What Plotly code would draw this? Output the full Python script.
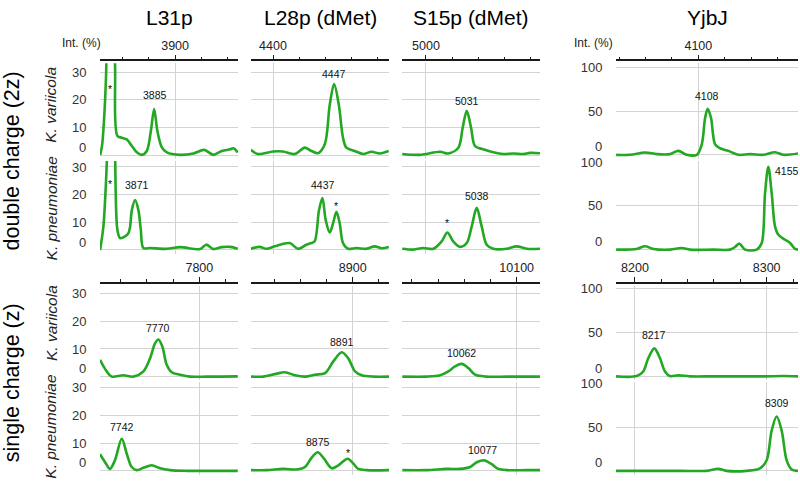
import plotly.graph_objects as go

W, H = 800, 482
FONT = "Liberation Sans, Arial, sans-serif"
GREEN = "#22a822"
GRID = "#d3d3d3"
AXIS = "#1a1a1a"

# ---------------- text ----------------
proteins = ["L31p", "L28p (dMet)", "S15p (dMet)", "YjbJ"]
species = ["K. variicola", "K. pneumoniae", "K. variicola", "K. pneumoniae"]
charge_states = ["double charge (2z)", "single charge (z)"]
int_ticks_small = [0, 10, 20, 30]
int_ticks_large = [0, 50, 100]

# ---------------- spectra: m/z and relative intensity (%) ----------------
l31p_2z_kv_mz = [3842.8, 3844.3, 3845.8, 3847.4, 3848.8, 3850.8, 3852.8, 3854.2, 3856.0, 3859.3, 3863.1,
                 3867.0, 3870.8, 3874.6, 3878.4, 3881.5, 3884.0, 3886.5, 3889.9, 3893.7, 3903.8, 3914.0,
                 3922.1, 3929.2, 3935.6, 3942.0, 3944.5, 3947.8]
l31p_2z_kv_int = [0.0, 3.6, 12.9, 30, 66, 100, 66, 32, 6.9, 6.3, 5.7,
                  3.3, 1.0, 0.1, 1.5, 8.7, 16.7, 8.7, 2.8, 1.0, 0.1, 0.6,
                  1.9, 0.1, 1.5, 2.1, 2.5, 1.0]
l31p_2z_kp_mz = [3842.8, 3845.3, 3846.8, 3847.9, 3849.0, 3851.0, 3853.0, 3854.2, 3856.0, 3858.0, 3861.8,
                 3864.4, 3865.7, 3867.0, 3869.5, 3872.0, 3873.8, 3875.8, 3880.9, 3893.7, 3903.8, 3919.1,
                 3923.7, 3929.2, 3935.6, 3942.0, 3947.8]
l31p_2z_kp_int = [0.0, 8.5, 20, 32, 66, 100, 66, 35, 7.2, 4.3, 4.9,
                  6.1, 8.5, 14.4, 18.0, 14.4, 7.5, 0.7, 0.7, 0.4, 1.0, 0.3,
                  1.9, 0.3, 1.0, 1.1, 0.4]
l31p_1z_kv_mz = [7724.2, 7729.3, 7733.1, 7742.0, 7749.6, 7757.3, 7762.4, 7766.2, 7768.7, 7771.8, 7775.1,
                 7778.9, 7785.3, 7792.9, 7805.6, 7815.8, 7829.3]
l31p_1z_kv_int = [6.1, 1.9, 0.0, 0.5, 0.0, 1.9, 6.6, 12.0, 13.4, 10.8, 4.3,
                  1.6, 0.7, 0.0, 0.0, 0.0, 0.1]
l31p_1z_kp_mz = [7724.2, 7728.8, 7731.8, 7735.6, 7740.8, 7744.6, 7748.4, 7752.2, 7757.3, 7763.7, 7770.0,
                 7777.7, 7790.4, 7805.6, 7829.3]
l31p_1z_kp_int = [6.0, 2.6, 0.7, 3.8, 11.6, 6.2, 1.4, 0.25, 1.1, 2.0, 0.9,
                  0.25, 0.0, 0.0, 0.0]

l28p_2z_kv_mz = [4383.0, 4388.5, 4400.0, 4407.6, 4416.6, 4424.2, 4429.3, 4434.4, 4439.5, 4443.3, 4446.6,
                 4450.2, 4453.4, 4456.0, 4462.4, 4468.7, 4475.1, 4481.5, 4488.3]
l28p_2z_kv_int = [1.9, 0.4, 1.3, 1.3, 0.4, 2.7, 1.5, 0.7, 3.9, 18.2, 25.7,
                  18.2, 6.3, 2.7, 1.5, 0.4, 1.2, 0.6, 1.5]
l28p_2z_kp_mz = [4383.0, 4389.8, 4395.0, 4401.3, 4412.7, 4419.1, 4425.5, 4429.3, 4431.8, 4435.1, 4437.7,
                 4440.2, 4443.3, 4445.8, 4448.4, 4450.9, 4453.4, 4457.3, 4463.7, 4471.3, 4477.6, 4482.7,
                 4488.3]
l28p_2z_kp_int = [0.4, 1.1, 0.4, 1.3, 2.5, 0.4, 1.9, 2.5, 3.1, 14.4, 18.8,
                  10.8, 6.3, 9.6, 13.8, 9.6, 2.5, 0.4, 0.7, 0.4, 1.3, 0.6,
                  1.1]
l28p_1z_kv_mz = [8822.4, 8831.8, 8840.7, 8848.3, 8855.9, 8863.6, 8871.2, 8878.9, 8885.2, 8891.6, 8896.6,
                 8901.8, 8906.9, 8915.7, 8927.7]
l28p_1z_kv_int = [0.0, 0.0, 0.9, 1.6, 0.5, 0.0, 0.7, 1.3, 5.5, 8.8, 6.6,
                  1.9, 0.5, 0.0, 0.0]
l28p_1z_kp_mz = [8822.4, 8834.4, 8847.0, 8857.3, 8863.6, 8868.7, 8873.3, 8878.1, 8884.0, 8889.0, 8896.2,
                 8900.5, 8904.3, 8910.7, 8927.7]
l28p_1z_kp_int = [0.25, 0.25, 0.7, 0.5, 1.4, 4.8, 6.7, 4.4, 0.9, 2.0, 4.4,
                  2.6, 0.7, 0.25, 0.25]

s15p_2z_kv_mz = [4981.9, 4995.4, 5010.7, 5017.0, 5024.7, 5028.0, 5031.1, 5034.4, 5037.4, 5043.7, 5051.4,
                 5059.0, 5066.6, 5074.3, 5079.4, 5087.0]
s15p_2z_kv_int = [0.4, 0.1, 1.2, 0.6, 2.7, 9.9, 16.0, 9.9, 3.3, 2.1, 1.0,
                  0.4, 0.6, 0.4, 0.8, 0.7]
s15p_2z_kp_mz = [4981.9, 4990.3, 4997.9, 5005.6, 5012.0, 5016.3, 5020.8, 5026.0, 5031.1, 5034.9, 5038.7,
                 5042.5, 5046.3, 5051.4, 5061.6, 5069.2, 5076.9, 5087.0]
s15p_2z_kp_int = [0.4, 0.1, 0.7, 0.4, 3.1, 6.3, 3.1, 1.1, 2.5, 8.5, 15.2,
                  8.5, 1.9, 0.4, 0.4, 1.3, 0.4, 0.4]
s15p_1z_kv_mz = [10012.7, 10031.3, 10041.5, 10047.8, 10052.9, 10058.0, 10063.1, 10068.2, 10077.1, 10092.4,
                 10105.0, 10117.8]
s15p_1z_kv_int = [0.0, 0.0, 0.5, 1.9, 3.7, 4.6, 3.1, 0.7, 0.0, 0.0,
                  0.0, 0.0]
s15p_1z_kp_mz = [10012.7, 10031.3, 10046.5, 10056.7, 10064.4, 10069.5, 10075.3, 10080.9, 10086.0, 10092.4,
                 10107.6, 10117.8]
s15p_1z_kp_int = [0.25, 0.25, 0.7, 0.7, 1.4, 3.1, 3.8, 2.4, 0.7, 0.25,
                  0.25, 0.25]

yjbj_2z_kv_mz = [4037.7, 4048.3, 4059.6, 4068.5, 4078.6, 4084.8, 4091.2, 4098.8, 4102.6, 4105.1, 4107.1,
                 4109.6, 4112.7, 4116.5, 4122.7, 4130.3, 4139.2, 4149.2, 4158.1, 4164.4, 4175.8]
yjbj_2z_kv_int = [0.0, 0.0, 2.7, 0.8, 0.8, 4.5, 0.0, 0.0, 12.0, 42.0, 52.6,
                  42.0, 12.0, 7.5, 4.5, 0.0, 0.8, 0.0, 3.0, 0.0, 1.6]
yjbj_2z_kp_mz = [4037.7, 4053.3, 4059.6, 4066.0, 4078.6, 4087.4, 4093.7, 4111.4, 4124.0, 4127.8, 4131.1,
                 4135.4, 4144.2, 4148.0, 4150.5, 4153.0, 4155.6, 4158.1, 4160.6, 4165.7, 4169.5, 4173.3,
                 4175.8]
yjbj_2z_kp_int = [0.0, 0.8, 3.8, 0.8, 0.0, 1.9, 0.0, 0.0, 0.0, 3.0, 6.8,
                  0.0, 0.0, 7.5, 64.0, 94.7, 64.0, 26.4, 16.9, 11.3, 7.5, 0.8,
                  0.0]
yjbj_1z_kv_mz = [8185.6, 8201.3, 8206.3, 8210.1, 8214.7, 8219.0, 8222.8, 8226.6, 8232.9, 8241.8, 8259.5,
                 8277.2, 8297.4, 8312.6, 8324.0]
yjbj_1z_kv_int = [0.0, 0.3, 5.6, 20.6, 31.9, 20.6, 5.6, 0.3, 1.1, 0.0, 0.0,
                  0.0, 0.0, 0.3, 0.0]
yjbj_1z_kp_mz = [8185.6, 8208.9, 8234.2, 8254.4, 8263.3, 8269.6, 8284.8, 8294.9, 8300.0, 8303.8, 8307.6,
                 8311.4, 8315.2, 8319.0, 8324.0]
yjbj_1z_kp_int = [0.0, 0.0, 0.0, 0.0, 2.3, 0.0, 0.0, 2.7, 12.0, 45.9, 62.0,
                  45.9, 12.0, 1.6, 0.0]

# peak labels: text, m/z, intensity, panel row, panel column
label_text = ["*", "3885", "*", "3871", "4447", "4437", "*", "5031", "5038", "*", "4108", "4155",
              "7770", "7742", "8891", "8875", "*", "10062", "10077", "8217", "8309"]
label_mz = [3850.4, 3885.0, 3850.4, 3871.2, 4446.6, 4438.2, 4448.4, 5031.0, 5039.2, 5016.3, 4106.4, 4156.6,
            7768.7, 7740.8, 8891.6, 8873.3, 8896.6, 10058.0, 10073.7, 8214.4, 8307.6]
label_int = [25.1, 21.8, 25.1, 23.3, 29.5, 23.3, 16.8, 19.75, 19.4, 10.8, 67.6, 90.2,
             17.6, 16.0, 12.6, 10.6, 7.6, 8.4, 7.6, 47.7, 77.8]
label_row = [0, 0, 1, 1, 0, 1, 1, 0, 1, 1, 0, 1,
             2, 3, 2, 3, 3, 2, 3, 2, 3]
label_col = [0, 0, 0, 0, 1, 1, 1, 2, 2, 2, 3, 3,
             0, 0, 1, 1, 1, 2, 2, 3, 3]

spectra = [
    [(l31p_2z_kv_mz, l31p_2z_kv_int), (l28p_2z_kv_mz, l28p_2z_kv_int),
     (s15p_2z_kv_mz, s15p_2z_kv_int), (yjbj_2z_kv_mz, yjbj_2z_kv_int)],
    [(l31p_2z_kp_mz, l31p_2z_kp_int), (l28p_2z_kp_mz, l28p_2z_kp_int),
     (s15p_2z_kp_mz, s15p_2z_kp_int), (yjbj_2z_kp_mz, yjbj_2z_kp_int)],
    [(l31p_1z_kv_mz, l31p_1z_kv_int), (l28p_1z_kv_mz, l28p_1z_kv_int),
     (s15p_1z_kv_mz, s15p_1z_kv_int), (yjbj_1z_kv_mz, yjbj_1z_kv_int)],
    [(l31p_1z_kp_mz, l31p_1z_kp_int), (l28p_1z_kp_mz, l28p_1z_kp_int),
     (s15p_1z_kp_mz, s15p_1z_kp_int), (yjbj_1z_kp_mz, yjbj_1z_kp_int)],
]

# ---------------- layout geometry (pixels) ----------------
col_px = [(100, 238), (251, 389), (402, 540), (616, 798)]
row_px = [(58, 155), (157, 251), (284, 379), (381, 475)]
axis_line_px = {0: 55, 2: 280}
zero_px_small = [151, 247, 375.3, 470.7]
zero_px_large = [150.7, 246.7, 375, 470.7]
PX_PER_PCT_SMALL = 2.8
PX_PER_PCT_LARGE = 0.887
xrange_2z = [(3842.7, 3948.0), (4383.2, 4488.5), (4981.7, 5087.0), (4037.6, 4175.5)]
xrange_1z = [(7724.2, 7829.5), (8822.4, 8927.7), (10012.4, 10117.8), (8185.6, 8323.8)]


def ax(prefix, i):
    return prefix if i == 1 else f"{prefix}{i}"


def py(p):
    return 1 - p / H


fig = go.Figure()
layout = {}
annotations = []

for r in range(4):
    for c in range(4):
        i = r * 4 + c + 1
        xs, ys = spectra[r][c]
        fig.add_trace(go.Scatter(
            x=xs, y=ys, mode="lines",
            line=dict(color=GREEN, width=2.6, shape="spline", smoothing=0.9),
            xaxis=ax("x", i), yaxis=ax("y", i), hoverinfo="skip", showlegend=False))

        xr = xrange_2z[c] if r < 2 else xrange_1z[c]
        xa = dict(domain=[col_px[c][0] / W, col_px[c][1] / W], range=list(xr), anchor=ax("y", i),
                  showgrid=True, gridcolor=GRID, gridwidth=1, tick0=0, dtick=100, tickformat="d",
                  zeroline=False, showline=False, ticks="", showticklabels=False, fixedrange=True)
        if r in axis_line_px:
            xa.update(anchor="free", position=py(axis_line_px[r]), side="top",
                      showline=True, linecolor=AXIS, linewidth=1.5,
                      ticks="outside", ticklen=5, tickwidth=1.3, tickcolor=AXIS,
                      showticklabels=True, tickfont=dict(family=FONT, size=12.5, color="#222"),
                      minor=dict(dtick=20, ticks="outside", ticklen=3, tickwidth=1.2,
                                 tickcolor=AXIS, showgrid=False))
        large = (c == 3)
        z = (zero_px_large if large else zero_px_small)[r]
        s = PX_PER_PCT_LARGE if large else PX_PER_PCT_SMALL
        top, bot = row_px[r]
        tv = int_ticks_large if large else int_ticks_small
        ya = dict(domain=[py(bot), py(top)], range=[(z - bot) / s, (z - top) / s], anchor=ax("x", i),
                  showgrid=True, gridcolor=GRID, gridwidth=1, zeroline=False, showline=False,
                  tickvals=tv, ticktext=[""] + [str(v) for v in tv[1:]], fixedrange=True)
        if c in (0, 3):
            ya.update(showticklabels=True, ticks="outside", ticklen=10, tickcolor="rgba(0,0,0,0)",
                      tickfont=dict(family=FONT, size=13, color="#333"))
            annotations.append(dict(text="0", xref="paper", yref="paper",
                                    x=(col_px[c][0] - 12) / W, y=py(z - 8),
                                    xanchor="right", yanchor="middle", showarrow=False,
                                    font=dict(family=FONT, size=13, color="#333")))
        else:
            ya.update(showticklabels=False, ticks="")
        layout[ax("xaxis", i)] = xa
        layout[ax("yaxis", i)] = ya

for t, m, v, r, c in zip(label_text, label_mz, label_int, label_row, label_col):
    i = r * 4 + c + 1
    left = (t == "4155")
    annotations.append(dict(text=t, x=m, y=v, xref=ax("x", i), yref=ax("y", i),
                            xanchor="left" if left else "center", yanchor="middle",
                            yshift=-3 if t == "*" else 0, showarrow=False,
                            font=dict(family=FONT, size=10.5, color="#111")))

for c, name in enumerate(proteins):
    annotations.append(dict(text=name, xref="paper", yref="paper",
                            x=(col_px[c][0] + col_px[c][1]) / 2 / W, y=py(12),
                            xanchor="center", yanchor="middle", showarrow=False,
                            font=dict(family=FONT, size=21, color="#000")))

for xc in (81.5, 593.5):
    annotations.append(dict(text="Int. (%)", xref="paper", yref="paper", x=xc / W, y=py(37),
                            xanchor="center", yanchor="middle", showarrow=False,
                            font=dict(family=FONT, size=12, color="#222")))

for yc, txt in zip((157.5, 382), charge_states):
    annotations.append(dict(text=txt, xref="paper", yref="paper", x=12 / W, y=py(yc),
                            xanchor="center", yanchor="middle", textangle=-90, showarrow=False,
                            font=dict(family=FONT, size=21.5, color="#000")))

for yc, txt in zip((100, 205, 321, 426), species):
    annotations.append(dict(text=f"<i>{txt}</i>", xref="paper", yref="paper", x=51 / W, y=py(yc),
                            xanchor="center", yanchor="middle", textangle=-90, showarrow=False,
                            font=dict(family=FONT, size=15.5, color="#222")))

fig.update_layout(width=W, height=H, margin=dict(l=0, r=0, t=0, b=0),
                  paper_bgcolor="white", plot_bgcolor="white",
                  annotations=annotations, **layout)

fig.write_html("out.html", config={"displayModeBar": False},
               post_script="document.body.style.margin='0px';document.documentElement.style.margin='0px';")
